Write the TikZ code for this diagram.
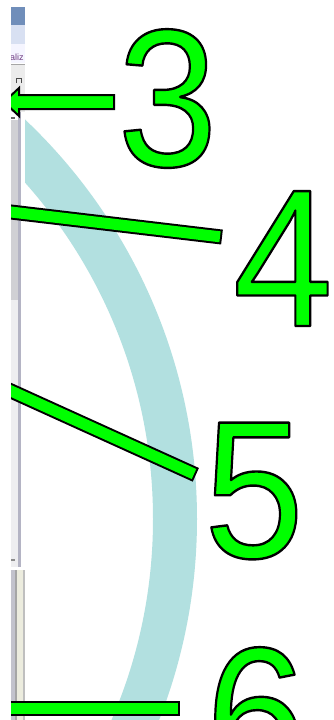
\documentclass[tikz,border=0pt]{standalone}
\usepackage{graphicx}
\usepackage{fontspec}
\setmainfont{Liberation Sans}
\usetikzlibrary{calc}
\definecolor{callgreen}{RGB}{0,255,0}
\definecolor{bandteal}{RGB}{178,224,224}
\definecolor{stripblue}{RGB}{112,142,186}
\definecolor{striplav}{RGB}{216,224,242}
\definecolor{menupurple}{RGB}{112,60,130}
\definecolor{trackgray}{RGB}{208,208,212}
\definecolor{tracklight}{RGB}{238,238,240}
\definecolor{trackline}{RGB}{180,180,196}
\definecolor{panelgray}{RGB}{236,236,236}
\definecolor{cream}{RGB}{236,236,222}
\definecolor{lowgray}{RGB}{195,195,205}
\newcommand{\outlinedglyph}[1]{\scalebox{0.915}[1]{\special{pdf:literal direct 0 G 2.4 w 1 j 2 Tr}#1\special{pdf:literal direct 0 Tr}}}
\begin{document}
\begin{tikzpicture}[x=1pt,y=-1pt,
  digit/.style={inner sep=0pt, anchor=base, text=callgreen,
    font=\fontsize{196}{196}\selectfont},
  pointerback/.style={draw=black, line width=15pt, shorten >=-2pt},
  pointerfront/.style={draw=callgreen, line width=11pt},
  arrowshape/.style={fill=callgreen, draw=black, line width=2pt, line join=miter}]
\clip (0,0) rectangle (334,720);
\fill[white] (0,0) rectangle (334,720);
% teal band
\begin{scope}
  \clip (25,0) rectangle (334,720);
  \draw[bandteal, line width=44pt] (-353,519) circle[radius=528pt];
\end{scope}
% left window strip
\fill[stripblue] (11,7) rectangle (25,25);
\fill[striplav] (11,25) rectangle (25,44);
\fill[white!96!blue] (11,44) rectangle (25,63);
\node[anchor=base west, inner sep=0pt, text=menupurple, font=\fontsize{9}{9}\selectfont] (menu) at (10,60) {aliz};
\draw[gray!70, line width=0.8pt] (11,64) -- (25,64);
\fill[panelgray] (11,65) rectangle (25,112);
\draw[black!70, line width=0.8pt] (16,83) -- (16,78) -- (21,78) -- (21,83);
\fill[black!60] (11,117) rectangle (15,118.5);
\fill[trackgray] (11,120) rectangle (18,300);
\fill[tracklight] (11,300) rectangle (18,567);
\fill[trackline] (18,112) rectangle (21,567);
\fill[white] (21,112) rectangle (25,567);
\fill[black!45] (11,559) rectangle (15,560.5);
\fill[lowgray] (11,570) rectangle (15,720);
\fill[black!35] (15,570) rectangle (17,720);
\fill[cream] (17,570) rectangle (23,720);
\fill[black!25] (23,570) rectangle (25,720);
% digits
\node[digit] (n3) at (167.5,166) {\outlinedglyph{3}};
\node[digit] (n4) at (283,326) {\outlinedglyph{4}};
\node[digit] (n5) at (254,557.5) {\outlinedglyph{5}};
\node[digit] (n6) at (256,784) {\outlinedglyph{6}};
% arrow for 3
\coordinate (a3r) at (114,95);
\coordinate (a3s) at (19,95);
\coordinate (a3h) at (19,88);
\coordinate (a3t) at (4,102);
\draw[arrowshape] (a3r) -- (a3s) -- (a3h) -- (a3t) -- (19,116) -- (19,109) -- (114,109) -- cycle;
% pointers
\coordinate (s4) at (0,210.7);
\coordinate (e4) at (220,236.8);
\coordinate (s5) at (0,386);
\coordinate (e5) at (194,474);
\coordinate (s6) at (0,708);
\coordinate (e6) at (178,708);
\foreach \s/\e in {s4/e4, s5/e5, s6/e6} {
  \draw[pointerback] (\s) -- (\e);
  \draw[pointerfront] (\s) -- (\e);
}
% white margin
\fill[white] (0,0) rectangle (11,720);
\end{tikzpicture}
\end{document}
